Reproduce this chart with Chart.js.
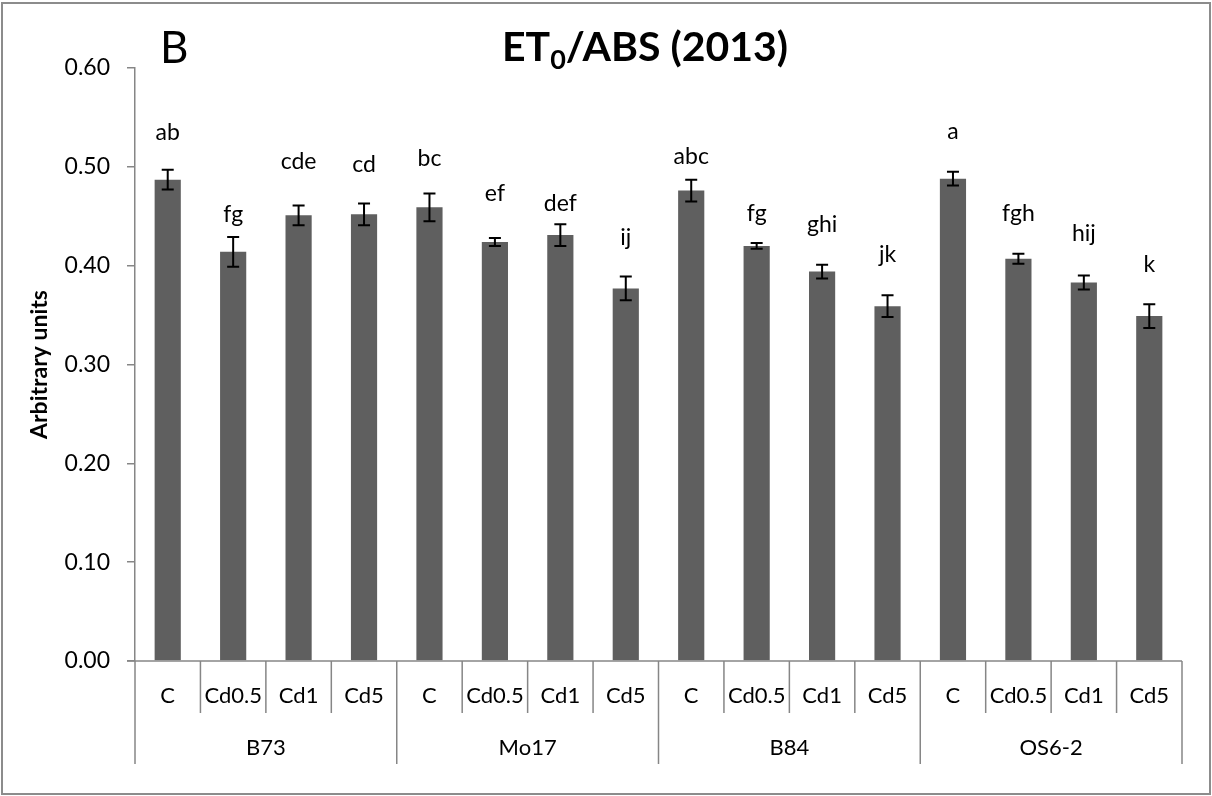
<!DOCTYPE html>
<html>
<head>
<meta charset="utf-8">
<script src="https://cdn.jsdelivr.net/npm/chart.js@4.4.0/dist/chart.umd.min.js"></script>
<style>
  html, body { margin: 0; padding: 0; background: #fff; }
  #wrap { width: 1212px; height: 796px; }
</style>
</head>
<body>
<div id="wrap"><canvas id="barChart" width="1212" height="796"></canvas></div>
<script>
// Genotypes and Cd treatments
const genotypes = ['B73', 'Mo17', 'B84', 'OS6-2'];
const treatments = ['C', 'Cd0.5', 'Cd1', 'Cd5'];

// ET0/ABS means and standard errors, one per genotype x treatment
const values = [0.487, 0.414, 0.451, 0.452, 0.459, 0.424, 0.431, 0.377,
                0.476, 0.420, 0.394, 0.359, 0.488, 0.407, 0.383, 0.349];
const errors = [0.010, 0.015, 0.010, 0.011, 0.014, 0.004, 0.011, 0.012,
                0.011, 0.003, 0.007, 0.011, 0.007, 0.005, 0.007, 0.012];

// significance letters and the height (axis units) they sit at
const letters = ['ab', 'fg', 'cde', 'cd', 'bc', 'ef', 'def', 'ij',
                 'abc', 'fg', 'ghi', 'jk', 'a', 'fgh', 'hij', 'k'];
const letterY = [0.535, 0.452, 0.505, 0.502, 0.508, 0.473, 0.463, 0.428,
                 0.510, 0.453, 0.442, 0.411, 0.536, 0.453, 0.432, 0.401];

const yTicks = [0, 0.1, 0.2, 0.3, 0.4, 0.5, 0.6];

const labels = [];
genotypes.forEach(g => treatments.forEach(t => labels.push(g + ' ' + t)));

const FONT = 'Lato, "Open Sans", sans-serif';
const AXIS = '#868686';

const extras = {
    id: 'extras',
    afterDatasetsDraw(chart) {
        const ctx = chart.ctx;
        const x = chart.scales.x, y = chart.scales.y;
        ctx.save();
        // barras de erro
        ctx.strokeStyle = '#000';
        ctx.lineWidth = 2;
        values.forEach((v, i) => {
            const cx = x.getPixelForValue(i);
            const top = y.getPixelForValue(v + errors[i]);
            const bot = y.getPixelForValue(v - errors[i]);
            ctx.beginPath();
            ctx.moveTo(cx, top); ctx.lineTo(cx, bot);
            ctx.moveTo(cx - 6, top); ctx.lineTo(cx + 6, top);
            ctx.moveTo(cx - 6, bot); ctx.lineTo(cx + 6, bot);
            ctx.stroke();
        });
        // letras
        ctx.fillStyle = '#000';
        ctx.font = '23px ' + FONT;
        ctx.textAlign = 'center';
        ctx.textBaseline = 'middle';
        letters.forEach((l, i) => {
            ctx.fillText(l, x.getPixelForValue(i), y.getPixelForValue(letterY[i]));
        });
        ctx.restore();
    },
    afterDraw(chart) {
        const ctx = chart.ctx;
        const x = chart.scales.x, y = chart.scales.y;
        const area = chart.chartArea;
        const y0 = y.getPixelForValue(0);
        const n = labels.length;
        ctx.save();

        // eixo x com duas linhas de categorias
        ctx.strokeStyle = AXIS;
        ctx.lineWidth = 1.5;
        ctx.beginPath();
        ctx.moveTo(area.left - 8, y0); ctx.lineTo(area.right, y0);
        for (let i = 0; i <= n; i++) {
            let bx;
            if (i === 0) bx = area.left;
            else if (i === n) bx = area.right;
            else bx = (x.getPixelForValue(i - 1) + x.getPixelForValue(i)) / 2;
            const depth = (i % treatments.length === 0) ? 103 : 52;
            ctx.moveTo(bx, y0); ctx.lineTo(bx, y0 + depth);
        }
        ctx.stroke();

        ctx.fillStyle = '#000';
        ctx.font = '22px ' + FONT;
        ctx.textAlign = 'center';
        ctx.textBaseline = 'middle';
        labels.forEach((l, i) => {
            ctx.fillText(treatments[i % treatments.length], x.getPixelForValue(i), y0 + 35);
        });
        genotypes.forEach((g, gi) => {
            const a = x.getPixelForValue(gi * 4), b = x.getPixelForValue(gi * 4 + 3);
            ctx.fillText(g, (a + b) / 2, y0 + 87);
        });

        // titulo do eixo y
        ctx.save();
        ctx.translate(40, (area.top + area.bottom) / 2);
        ctx.rotate(-Math.PI / 2);
        ctx.font = 'bold 23px ' + FONT;
        ctx.fillText('Arbitrary units', 0, 0);
        ctx.restore();

        // titulo com subscrito
        const big = 'bold 41px ' + FONT, small = 'bold 27px ' + FONT;
        ctx.textAlign = 'left';
        ctx.textBaseline = 'alphabetic';
        ctx.font = big;
        const w1 = ctx.measureText('ET').width;
        const w3 = ctx.measureText('/ABS (2013)').width;
        ctx.font = small;
        const w2 = ctx.measureText('0').width;
        let tx = 645 - (w1 + w2 + w3) / 2;
        ctx.font = big;
        ctx.fillText('ET', tx, 61);
        ctx.font = small;
        ctx.fillText('0', tx + w1, 69);
        ctx.font = big;
        ctx.fillText('/ABS (2013)', tx + w1 + w2, 61);

        // letra do painel
        ctx.font = '44px ' + FONT;
        ctx.fillText('B', 160, 63);

        // moldura
        ctx.strokeStyle = '#8c8c8c';
        ctx.lineWidth = 2;
        ctx.strokeRect(2, 3, chart.width - 4, chart.height - 5);
        ctx.restore();
    }
};

const ctxBar = document.getElementById('barChart').getContext('2d');
const barChart = new Chart(ctxBar, {
    type: 'bar',
    data: {
        labels: labels,
        datasets: [{
            label: 'ET0/ABS',
            data: values,
            backgroundColor: '#5f5f5f',
            borderWidth: 0,
            categoryPercentage: 1,
            barPercentage: 0.4
        }]
    },
    options: {
        responsive: false,
        animation: false,
        layout: { padding: { top: 68, right: 30, bottom: 135, left: 0 } },
        scales: {
            x: { display: false },
            y: {
                min: 0,
                max: 0.6,
                afterFit(scale) { scale.width = 135; },
                afterBuildTicks(scale) { scale.ticks = yTicks.map(v => ({ value: v })); },
                border: { display: true, color: AXIS, width: 1.5 },
                grid: { drawOnChartArea: false, drawTicks: true, tickLength: 8, color: AXIS, lineWidth: 1.5 },
                ticks: {
                    padding: 17,
                    color: '#000',
                    font: { family: FONT, size: 23 },
                    callback: v => v.toFixed(2)
                }
            }
        },
        plugins: {
            legend: { display: false },
            tooltip: { enabled: false }
        }
    },
    plugins: [extras]
});
</script>
</body>
</html>
